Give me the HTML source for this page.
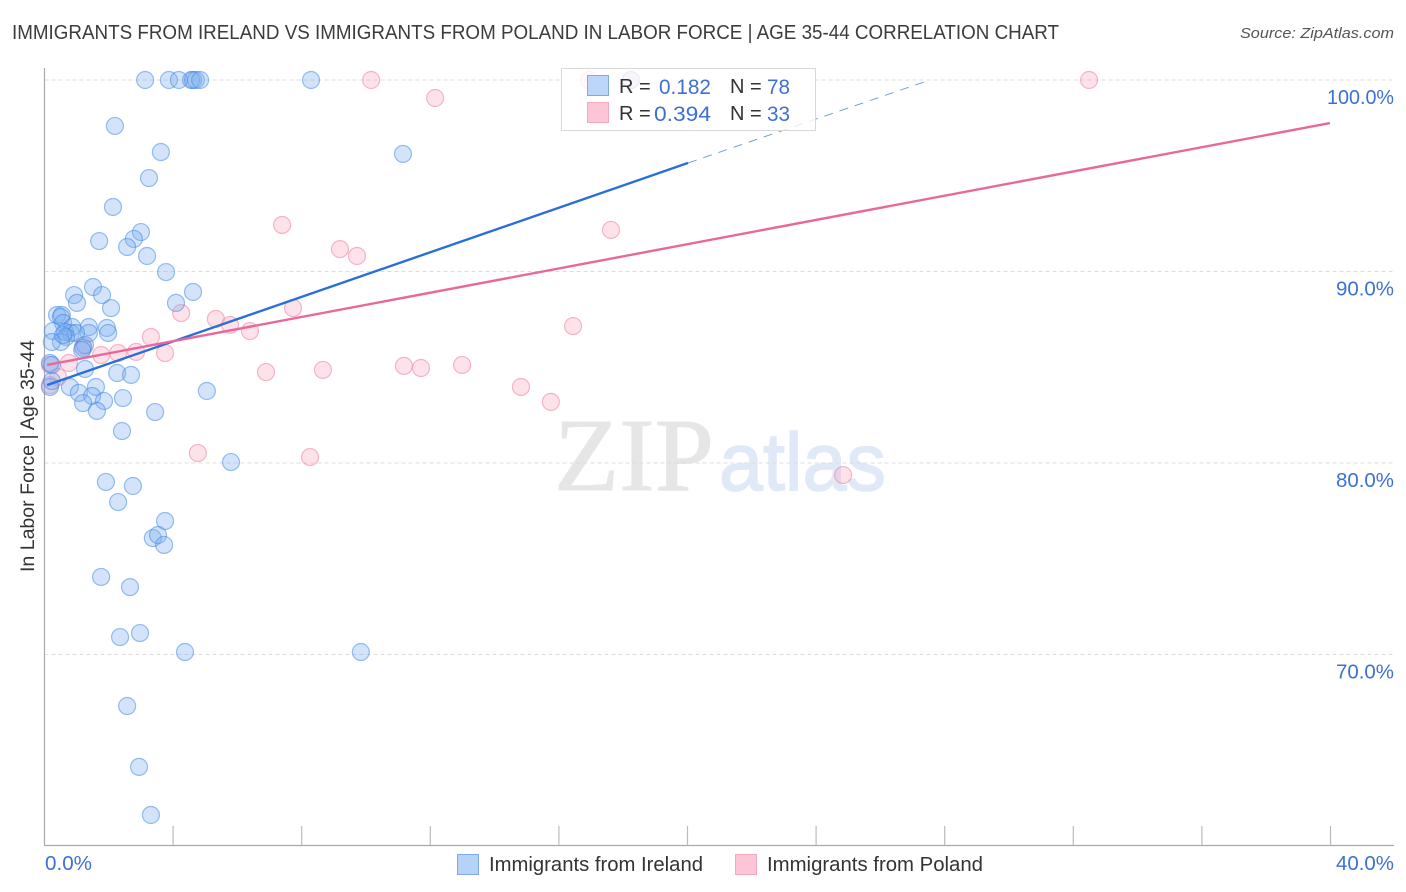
<!DOCTYPE html>
<html lang="en">
<head>
<meta charset="utf-8">
<title>Immigrants from Ireland vs Immigrants from Poland in Labor Force | Age 35-44 Correlation Chart</title>
<style>
html,body{margin:0;padding:0;background:#fff;width:1406px;height:892px;overflow:hidden}
svg{display:block;font-family:"Liberation Sans",sans-serif}
</style>
</head>
<body>
<svg id="chart" xmlns="http://www.w3.org/2000/svg" width="1406" height="892" viewBox="0 0 1406 892">
  <text x="12" y="39" font-size="20" fill="#3c3c3c" textLength="1047" lengthAdjust="spacingAndGlyphs">IMMIGRANTS FROM IRELAND VS IMMIGRANTS FROM POLAND IN LABOR FORCE | AGE 35-44 CORRELATION CHART</text>
  <text x="1394" y="38" font-size="15" font-style="italic" fill="#555" text-anchor="end" textLength="154" lengthAdjust="spacingAndGlyphs">Source: ZipAtlas.com</text>
  <g>
    <text x="554" y="490" font-family="'Liberation Serif',serif" font-size="104" fill="#e6e6e6" stroke="#e6e6e6" stroke-width="1" textLength="160" lengthAdjust="spacingAndGlyphs">ZIP</text>
    <text x="719" y="490" font-size="82" fill="#dfe9f8" stroke="#dfe9f8" stroke-width="1.5" textLength="167" lengthAdjust="spacingAndGlyphs">atlas</text>
  </g>
  <g id="grid"></g>
  <g id="axes"></g>
  <text transform="translate(34,456) rotate(-90)" font-size="19" fill="#333" text-anchor="middle" textLength="232" lengthAdjust="spacingAndGlyphs">In Labor Force | Age 35-44</text>
  <g id="pink-points"></g>
  <g id="blue-points"></g>
  <g id="trend-lines"></g>
  <g>
    <rect x="561.5" y="68.5" width="254" height="62" fill="#fff" fill-opacity="0.8" stroke="#d8d8d8"/>
    <rect x="587.5" y="75.5" width="21" height="20" fill="#b5d2f8" fill-opacity="0.9" stroke="#7eaae6"/>
    <rect x="587.5" y="102.5" width="21" height="20" fill="#fdc5d6" stroke="#f4a9c0"/>
    <text x="619" y="93" font-size="20" fill="#333">R =</text>
    <text x="711" y="94" font-size="21" fill="#3d70d6" text-anchor="end" textLength="52" lengthAdjust="spacingAndGlyphs">0.182</text>
    <text x="730" y="93" font-size="20" fill="#333">N =</text>
    <text x="790" y="94" font-size="21" fill="#3d70d6" text-anchor="end" textLength="23" lengthAdjust="spacingAndGlyphs">78</text>
    <text x="619" y="120" font-size="20" fill="#333">R =</text>
    <text x="711" y="121" font-size="21" fill="#3d70d6" text-anchor="end" textLength="57" lengthAdjust="spacingAndGlyphs">0.394</text>
    <text x="730" y="120" font-size="20" fill="#333">N =</text>
    <text x="790" y="121" font-size="21" fill="#3d70d6" text-anchor="end" textLength="23" lengthAdjust="spacingAndGlyphs">33</text>
  </g>
  <g>
    <rect x="457.5" y="854.5" width="21" height="20" fill="#b5d2f8" stroke="#7eaae6"/>
    <text x="489" y="871" font-size="20" fill="#333" textLength="214" lengthAdjust="spacingAndGlyphs">Immigrants from Ireland</text>
    <rect x="735.5" y="854.5" width="21" height="20" fill="#fdc5d6" stroke="#f4a9c0"/>
    <text x="767" y="871" font-size="20" fill="#333" textLength="216" lengthAdjust="spacingAndGlyphs">Immigrants from Poland</text>
  </g>
</svg>
<script>
const xTicks = [0, 4, 8, 12, 16, 20, 24, 28, 32, 36, 40];
const yTicks = [100, 90, 80, 70];
const xTickLabels = ["0.0%", "40.0%"];
const yTickLabels = ["100.0%", "90.0%", "80.0%", "70.0%"];

const irelandX = [3.13,3.87,4.18,4.56,4.62,4.71,4.84,8.29,18.24,2.19,3.62,11.15,3.25,2.13,3.00,1.70,2.78,2.57,3.19,3.78,1.51,0.92,1.79,4.62,1.01,4.09,2.07,0.39,0.54,0.51,0.58,0.86,1.38,1.94,1.98,1.38,0.26,0.64,0.82,0.98,0.67,0.51,0.23,0.58,1.20,1.26,1.17,0.17,0.23,1.26,2.26,2.69,0.17,0.23,0.79,1.60,1.07,1.48,1.85,1.20,1.63,2.44,3.44,5.05,2.41,5.80,1.91,2.75,2.29,3.75,3.37,3.53,3.72,1.76,2.66,2.35,2.97,4.37,9.84,2.57,2.94,3.31];
const irelandY = [100,100,100,100,100,100,100,100,100,97.60,96.24,96.14,94.88,93.37,92.06,91.59,91.70,91.28,90.81,89.97,89.19,88.77,88.77,88.93,88.36,88.36,88.09,87.73,87.73,87.62,87.31,87.10,87.10,87.05,86.79,86.79,86.89,86.84,86.79,86.79,86.58,86.32,86.32,86.68,86.01,86.16,85.90,85.22,85.12,84.91,84.70,84.60,83.97,84.28,83.97,83.97,83.66,83.50,83.24,83.13,82.72,83.39,82.66,83.76,81.67,80.05,79.01,78.80,77.96,76.97,76.08,76.24,75.72,74.05,73.52,70.91,71.12,70.13,70.13,67.31,64.13,61.62];
const polandX = [10.16,12.15,32.49,16.94,18.24,7.39,9.19,9.72,17.62,4.25,5.33,5.77,6.39,7.73,3.31,16.44,3.75,2.85,2.29,1.76,1.20,0.76,0.17,0.42,0.17,6.89,8.66,11.18,11.71,12.99,14.82,15.75,4.77,8.26,24.84];
const polandY = [100,99.06,100,100,100,92.43,91.17,90.81,92.17,87.83,87.52,87.21,86.89,88.09,86.58,87.15,85.74,85.80,85.74,85.64,86.11,85.22,85.12,84.49,84.07,84.75,84.86,85.07,84.96,85.12,83.97,83.19,80.52,80.31,79.37];

const irelandTrendX = [0.08, 20.02];
const irelandTrendY = [84.07, 95.67];
const irelandDashX = [20.02, 27.54];
const irelandDashY = [95.67, 100];
const polandTrendX = [0.08, 39.98];
const polandTrendY = [85.12, 97.75];

const NS = "http://www.w3.org/2000/svg";
const sx = v => 44.5 + v * 32.15;
const sy = v => 80 + (100 - v) * 19.15;

function make(parentId, tag, attrs, text) {
  const el = document.createElementNS(NS, tag);
  for (const k in attrs) el.setAttribute(k, attrs[k]);
  if (text !== undefined) el.textContent = text;
  document.getElementById(parentId).appendChild(el);
  return el;
}

yTicks.forEach((t, i) => {
  const g = make("grid", "line", {x1: 44.5, x2: 1394, y1: sy(t), y2: sy(t), stroke: "#dcdcdc", "stroke-width": 1, "stroke-dasharray": "4 3"});
  
  
  const lab = make("axes", "text", {x: 1394, y: sy(t) + 24, "font-size": 20, fill: "#3d70d6", "text-anchor": "end", textLength: yTickLabels[i].length > 5 ? 67 : 58, lengthAdjust: "spacingAndGlyphs"}, yTickLabels[i]);
  
  
});

const yAxis = make("axes", "line", {x1: 44.5, x2: 44.5, y1: 68, y2: 846, stroke: "#aaa", "stroke-width": 1.2});


const xAxis = make("axes", "line", {x1: 44, x2: 1394, y1: 845.5, y2: 845.5, stroke: "#aaa", "stroke-width": 1.2});



xTicks.slice(1).forEach(t => {
  const tick = make("axes", "line", {x1: sx(t), x2: sx(t), y1: 826, y2: 845, stroke: "#bbb", "stroke-width": 1.2});
  
  
});

const xLab0 = make("axes", "text", {x: 45, y: 870, "font-size": 20, fill: "#3d70d6", textLength: 47, lengthAdjust: "spacingAndGlyphs"}, xTickLabels[0]);


const xLab1 = make("axes", "text", {x: 1394, y: 870, "font-size": 20, fill: "#3d70d6", "text-anchor": "end", textLength: 58, lengthAdjust: "spacingAndGlyphs"}, xTickLabels[1]);



polandX.forEach((x, i) => {
  const c = make("pink-points", "circle", {cx: sx(x), cy: sy(polandY[i]), r: 8.5, fill: "#f9a8c0", "fill-opacity": 0.33, stroke: "#ee7fa2", "stroke-opacity": 0.55, "stroke-width": 1.2});
  
  
});
irelandX.forEach((x, i) => {
  const c = make("blue-points", "circle", {cx: sx(x), cy: sy(irelandY[i]), r: 8.5, fill: "#79aeef", "fill-opacity": 0.33, stroke: "#3f86e6", "stroke-opacity": 0.52, "stroke-width": 1.2});
  
  
});

const lb = make("trend-lines", "line", {x1: sx(irelandTrendX[0]), y1: sy(irelandTrendY[0]), x2: sx(irelandTrendX[1]), y2: sy(irelandTrendY[1]), stroke: "#2a6fd8", "stroke-width": 2.4});


const ld = make("trend-lines", "line", {x1: sx(irelandDashX[0]), y1: sy(irelandDashY[0]), x2: sx(irelandDashX[1]), y2: sy(irelandDashY[1]), stroke: "#6a94dc", "stroke-width": 0.9, "stroke-dasharray": "9 7"});


const lp = make("trend-lines", "line", {x1: sx(polandTrendX[0]), y1: sy(polandTrendY[0]), x2: sx(polandTrendX[1]), y2: sy(polandTrendY[1]), stroke: "#e8689a", "stroke-width": 2.4});


</script>
</body>
</html>
